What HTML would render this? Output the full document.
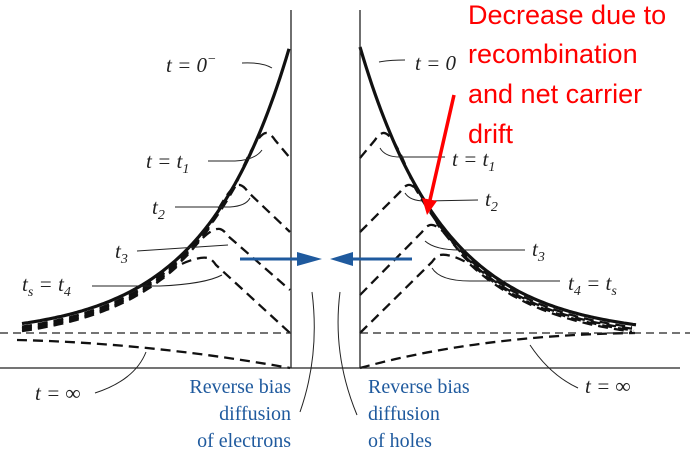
<!DOCTYPE html>
<html><head><meta charset="utf-8"><style>
html,body{margin:0;padding:0;background:#fff}
svg{display:block}
.m{font-family:"Liberation Serif",serif;font-style:italic;font-size:21px;fill:#222}
.b{font-family:"Liberation Serif",serif;font-size:20px;fill:#1f5a9e}
.r{font-family:"Liberation Sans",sans-serif;font-size:27px;fill:#f00}
</style></head><body>
<svg id="c" width="690" height="458" viewBox="0 0 690 458">
<g id="g" fill="none" stroke="#111"></g>
<g stroke="#222" stroke-width="1.3">
<line x1="291" y1="10" x2="291" y2="368"/><line x1="360" y1="10" x2="360" y2="368"/>
<line x1="0" y1="368" x2="680" y2="368"/>
<line x1="0" y1="333" x2="291" y2="333" stroke-dasharray="8,5"/>
<line x1="360" y1="333" x2="690" y2="333" stroke-dasharray="8,5"/>
</g>
<g fill="none" stroke="#222" stroke-width="1">
<path d="M242,63 Q262,62 272,68"/><path d="M208,161 L235,161 Q255,160 262,150"/>
<path d="M175,207 L230,207 Q246,206 250,198"/><path d="M137,251 L228,245"/>
<path d="M92,286 L160,286 Q205,284 222,275"/><path d="M95,393 Q135,380 146,352"/>
<path d="M379,62 Q390,60 405,60"/><path d="M380,148 Q385,157 400,157 L445,157"/>
<path d="M405,193 Q410,201 425,201 L478,200"/><path d="M425,241 Q435,250 460,250 L525,250"/>
<path d="M432,268 Q440,281 470,281 L560,281"/><path d="M530,345 Q550,375 578,388"/>
<path d="M312,292 Q320,355 300,412"/><path d="M340,292 Q332,355 357,415"/>
</g>
<g>
<line x1="240" y1="259" x2="305" y2="259" stroke="#1f5a9e" stroke-width="3"/>
<polygon points="297,252 322,259 297,266" fill="#1f5a9e"/>
<line x1="412" y1="259" x2="345" y2="259" stroke="#1f5a9e" stroke-width="3"/>
<polygon points="353,252 330,259 353,266" fill="#1f5a9e"/>
</g>
<g>
<line x1="454" y1="95" x2="430" y2="200" stroke="#f00" stroke-width="3.5"/>
<polygon points="422,198 427,215 437,201" fill="#f00"/>
</g>
<text class="m" x="166" y="72">t = 0<tspan dy="-9" font-size="14">−</tspan></text>
<text class="m" x="146" y="168">t = t<tspan dy="5" font-size="14">1</tspan></text>
<text class="m" x="152" y="214">t<tspan dy="5" font-size="14">2</tspan></text>
<text class="m" x="115" y="258">t<tspan dy="5" font-size="14">3</tspan></text>
<text class="m" x="22" y="291">t<tspan dy="5" font-size="14">s</tspan><tspan dy="-5"> = t</tspan><tspan dy="5" font-size="14">4</tspan></text>
<text class="m" x="35" y="400">t = ∞</text>
<text class="m" x="415" y="70">t = 0</text>
<text class="m" x="452" y="166">t = t<tspan dy="5" font-size="14">1</tspan></text>
<text class="m" x="485" y="206">t<tspan dy="5" font-size="14">2</tspan></text>
<text class="m" x="532" y="256">t<tspan dy="5" font-size="14">3</tspan></text>
<text class="m" x="568" y="290">t<tspan dy="5" font-size="14">4</tspan><tspan dy="-5"> = t</tspan><tspan dy="5" font-size="14">s</tspan></text>
<text class="m" x="585" y="393">t = ∞</text>
<g text-anchor="end">
<text class="b" x="291" y="393">Reverse bias</text><text class="b" x="291" y="420">diffusion</text><text class="b" x="291" y="447">of electrons</text></g>
<g>
<text class="b" x="368" y="393">Reverse bias</text><text class="b" x="368" y="420">diffusion</text><text class="b" x="368" y="447">of holes</text></g>
<g>
<text class="r" x="468" y="24">Decrease due to</text><text class="r" x="468" y="63">recombination</text>
<text class="r" x="468" y="103">and net carrier</text><text class="r" x="468" y="143">drift</text></g>
</svg>
<script>
const peaksL=[[267,133,158],[240,185,232],[220,229,290],[208,258,333]];
const peaksR=[[383,133,158],[408,185,232],[430,225,295],[440,255,333]];
const g=document.getElementById('g');
const K=85;
const sL=x=>336-294*Math.exp((x-291)/K);
const sR=x=>336-289*Math.exp(-(x-360)/K);
function add(d,w,dash,name){const p=document.createElementNS('http://www.w3.org/2000/svg','path');
p.setAttribute('d',d);p.setAttribute('stroke-width',w);if(dash)p.setAttribute('stroke-dasharray',dash);


g.appendChild(p);}
let d='';for(let x=22;x<=291;x+=3)d+=(x==22?'M':'L')+x+','+sL(x).toFixed(1);add(d,3.2,null,'solid-curve-left');
d='';for(let x=360;x<=636;x+=3)d+=(x==360?'M':'L')+x+','+sR(x).toFixed(1);add(d,3.2,null,'solid-curve-right');
peaksL.forEach((p,i)=>{let d='';const xe=p[0]-30;for(let x=22;x<=xe;x+=3)d+=(x==22?'M':'L')+x+','+(sL(x)+3+i*1.5).toFixed(1);
d+=' Q'+(p[0]-10)+','+(p[1]-2)+' '+p[0]+','+p[1]+' Q'+(p[0]+4)+','+(p[1]+1)+' '+(p[0]+8)+','+(p[1]+7)+' L290,'+p[2];add(d,2.3,'10,6','dashed-curve-left-t'+(i+1));});
peaksR.forEach((p,i)=>{let d='';const xs=p[0]+30;d='M360,'+p[2]+' L'+(p[0]-8)+','+(p[1]+7)+' Q'+(p[0]-4)+','+(p[1]+1)+' '+p[0]+','+p[1]+' Q'+(p[0]+10)+','+(p[1]-2)+' '+xs+','+(sR(xs)+3+i*1.5).toFixed(1);
for(let x=xs+3;x<=634;x+=3)d+='L'+x+','+(sR(x)+3+i*1.5).toFixed(1);add(d,2.3,'10,6','dashed-curve-right-t'+(i+1));});
add('M17,340 Q150,343 290,368',2.3,'10,6','dashed-curve-left-tinf');
add('M360,368 Q480,335 635,333',2.3,'10,6','dashed-curve-right-tinf');
</script>
</body></html>
